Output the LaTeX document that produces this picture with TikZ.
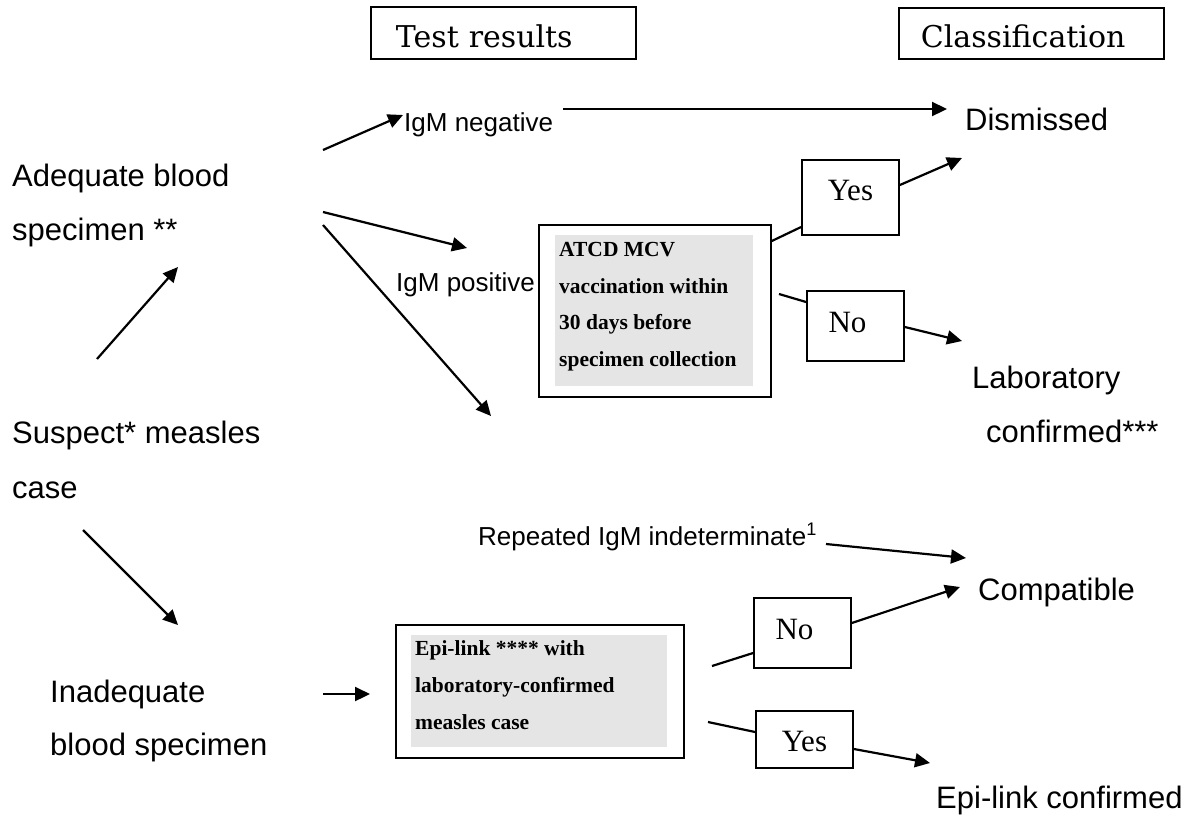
\documentclass[tikz,border=0pt]{standalone}
\usepackage{fontspec}
\setmainfont{Liberation Sans}
\newfontfamily\timesfont{Liberation Serif}
\newfontfamily\hdrfont{DejaVu Serif}
\usetikzlibrary{arrows.meta}
\begin{document}
\begin{tikzpicture}[x=1pt,y=-1pt,
  lbl/.style={font=\fontsize{31}{37}\selectfont, inner sep=0, anchor=base west},
  smalllbl/.style={font=\fontsize{26}{30}\selectfont, inner sep=0, anchor=base west},
  boxtext/.style={font=\timesfont\bfseries\fontsize{21.5}{25}\selectfont, inner sep=0, anchor=base west},
  ynbox/.style={draw, line width=1.8pt, minimum width=97, inner sep=0, font=\timesfont\fontsize{31}{35}\selectfont},
  hdrbox/.style={draw, line width=1.8pt, align=left, inner ysep=0, anchor=north west, font=\hdrfont\fontsize{30}{34}\selectfont},
  outerbox/.style={draw, line width=1.8pt, inner sep=0, anchor=north west},
  greybox/.style={fill=gray!20, inner sep=0, anchor=north west},
  arr/.style={line width=2.2pt, -{Triangle[length=15pt,width=14pt]}},
  ln/.style={line width=2.2pt}
]
\useasboundingbox (0,0) rectangle (1193,815);

% headers
\node[hdrbox, text width=215, inner xsep=25, text height=30, text depth=0, minimum height=52] (trbox) at (370,6) {Test results};
\node[hdrbox, text width=221, inner xsep=22, text height=29, text depth=0, minimum height=51] (clbox) at (898,7) {Classification};

% left labels
\node[lbl] (adeq1) at (12,186) {Adequate blood};
\node[lbl] (adeq2) at (12,240) {specimen **};
\node[lbl] (susp1) at (12,443) {Suspect* measles};
\node[lbl] (susp2) at (12,498) {case};
\node[lbl] (inad1) at (50,702) {Inadequate};
\node[lbl] (inad2) at (50,755) {blood specimen};

% test result labels
\node[smalllbl] (igmneg) at (404,131) {IgM negative};
\node[smalllbl] (igmpos) at (396,291) {IgM positive};
\node[smalllbl] (rep) at (478,545) {Repeated IgM indeterminate\textsuperscript{1}};

% classification labels
\node[lbl] (dism) at (965,130) {Dismissed};
\node[lbl] (lab1) at (972,388) {Laboratory};
\node[lbl] (lab2) at (986,442) {confirmed***};
\node[lbl] (comp) at (978,600) {Compatible};
\node[lbl] (epic) at (936,808) {Epi-link confirmed};

% ATCD box
\node[outerbox, minimum width=232, minimum height=172] (atcd) at (538,224) {};
\node[greybox, minimum width=198, minimum height=151] (atcdbg) at (555,235) {};
\node[boxtext] (atcd1) at (559,256) {ATCD MCV};
\node[boxtext] (atcd2) at (559,293) {vaccination within};
\node[boxtext] (atcd3) at (559,329) {30 days before};
\node[boxtext] (atcd4) at (559,366) {specimen collection};

% Epi-link box
\node[outerbox, minimum width=288, minimum height=133] (epi) at (395,624) {};
\node[greybox, minimum width=256, minimum height=112] (epibg) at (411,635) {};
\node[boxtext] (epi1) at (415,655) {Epi-link **** with};
\node[boxtext] (epi2) at (415,692) {laboratory-confirmed};
\node[boxtext] (epi3) at (415,729) {measles case};

% yes/no boxes
\node[ynbox, minimum height=75, text height=20, text depth=15] (yesA) at (850.5,197.5) {Yes};
\node[ynbox, minimum height=70, text height=21, text depth=9] (noA) at (855.5,326) {No\kern16pt};
\node[ynbox, minimum height=70, text height=21, text depth=9] (noB) at (802.5,633) {No\kern16pt};
\node[ynbox, minimum height=57, text height=23, text depth=0] (yesB) at (804.5,739.5) {Yes};

% connector end points
\coordinate (s1) at (97,359);  \coordinate (t1) at (178,267);
\coordinate (s2) at (83,530);  \coordinate (t2) at (178,625);
\coordinate (s3) at (323,150); \coordinate (t3) at (403,115);
\coordinate (s4) at (323,212); \coordinate (t4) at (467,248);
\coordinate (s5) at (323,225); \coordinate (t5) at (491,416);
\coordinate (s6) at (563,109); \coordinate (t6) at (947,109);
\coordinate (t7) at (962,158);
\coordinate (s8) at (779,294); \coordinate (t8) at (962,341);
\coordinate (s9) at (826,544); \coordinate (t9) at (966,558);
\coordinate (s10) at (323,694); \coordinate (t10) at (370,694);
\coordinate (s11) at (712,666); \coordinate (t11) at (960,587);
\coordinate (s12) at (708,722); \coordinate (t12) at (930,763);

% connectors
\draw[arr] (s1) -- (t1);
\draw[arr] (s2) -- (t2);
\draw[arr] (s3) -- (t3);
\draw[arr] (s4) -- (t4);
\draw[arr] (s5) -- (t5);
\draw[arr] (s6) -- (t6);
\draw[ln] (atcd.east |- 0,241) -- (yesA.west |- 0,227);
\draw[arr] (yesA.east |- 0,185) -- (t7);
\draw[ln] (s8) -- (noA.west |- 0,302);
\draw[arr] (noA.east |- 0,327) -- (t8);
\draw[arr] (s9) -- (t9);
\draw[arr] (s10) -- (t10);
\draw[ln] (s11) -- (noB.west |- 0,653);
\draw[arr] (noB.east |- 0,623) -- (t11);
\draw[ln] (s12) -- (yesB.west |- 0,732);
\draw[arr] (yesB.east |- 0,749) -- (t12);
\end{tikzpicture}
\end{document}
